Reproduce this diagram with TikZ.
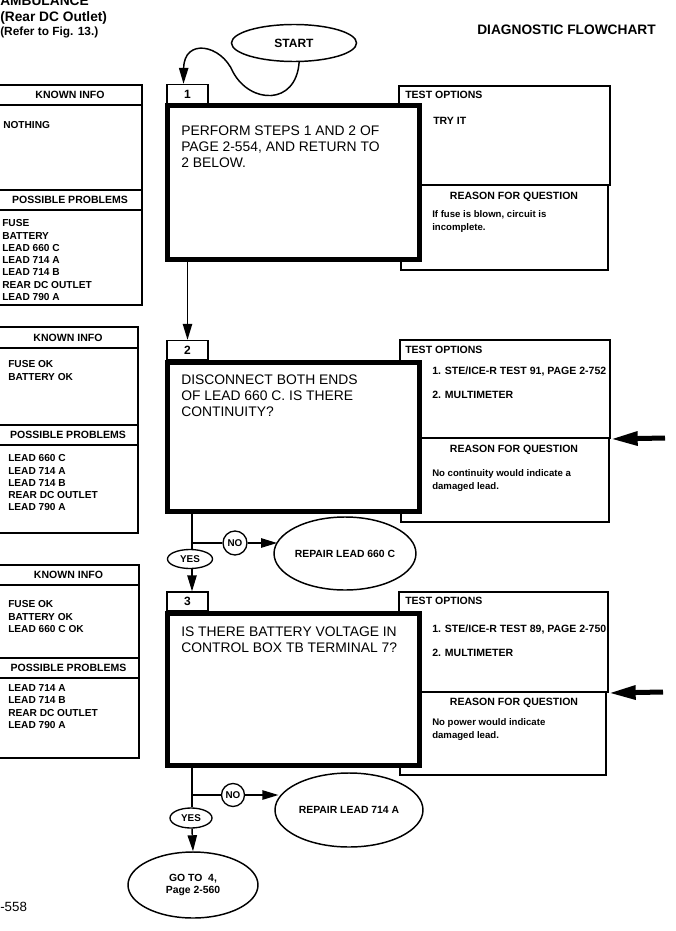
\documentclass[tikz,border=0pt]{standalone}
\usepackage{fontspec}
\setmainfont{Liberation Sans}
\usetikzlibrary{arrows.meta,positioning,shapes.geometric,fit}

\begin{document}
\begin{tikzpicture}[x=0.75pt,y=-0.75pt,
  ttl/.style={font=\bfseries\fontsize{10.3}{12}\selectfont,anchor=base west,inner sep=0},
  hd/.style={font=\bfseries\fontsize{7.9}{9.4}\selectfont,inner sep=0},
  lst/.style={font=\bfseries\fontsize{7.6}{9.2}\selectfont,align=left,anchor=north west,inner sep=0},
  opt/.style={font=\bfseries\fontsize{7.9}{9.4}\selectfont,anchor=north west,inner sep=0},
  why/.style={font=\bfseries\fontsize{7.2}{9.4}\selectfont,align=left,anchor=north west,inner sep=0},
  qtxt/.style={font=\fontsize{10.4}{12}\selectfont,align=left,anchor=north west,inner sep=0},
  lbox/.style={draw,line width=.9pt,inner sep=0},
  tbox/.style={draw,line width=1.5pt,inner sep=0},
  rbox/.style={draw,line width=.9pt,inner sep=0},
  qbox/.style={draw,line width=3.75pt,fill=white,inner sep=0},
  numbox/.style={draw,line width=1.2pt,fill=white,minimum width=30.75pt,minimum height=14pt,
    inner sep=0,font=\bfseries\fontsize{9}{10}\selectfont},
  oval/.style={draw,ellipse,line width=1.1pt,inner sep=0,align=center,
    font=\bfseries\fontsize{7.8}{8.6}\selectfont},
  tag/.style={draw,ellipse,line width=1pt,inner sep=0,font=\bfseries\fontsize{7.4}{8}\selectfont},
  wire/.style={line width=1.1pt},
  flow/.style={-{Triangle[length=12pt,width=7pt]},line width=1.1pt},
  bigflow/.style={-{Triangle[length=20pt,width=10pt]},line width=3.75pt}]
\useasboundingbox (0,0) rectangle (675,931);

% page heading
\node[ttl] (amb) at (0,6) {AMBULANCE};
\node[ttl] (outlet) at (0,21.5) {(Rear DC Outlet)};
\node[ttl,font=\bfseries\fontsize{8.9}{10}\selectfont] (fig) at (0,36) {(Refer to Fig. 13.)};
\node[ttl] (chart) at (477,35) {DIAGNOSTIC FLOWCHART};
\node[ttl,font=\fontsize{10}{12}\selectfont,anchor=west] (page) at (0,907) {-558};

\node[oval,minimum width=93.75pt,minimum height=27.75pt,font=\bfseries\fontsize{9}{10}\selectfont]
  (start) at (294,43) {START};

% left columns
\node[lbox,fit={(-2,85) (142,105)}] (kh1) {};
\node[lbox,fit={(-2,105) (142,190)}] (kb1) {};
\node[lbox,fit={(-2,190) (142,210)}] (ph1) {};
\node[lbox,fit={(-2,210) (142,305)}] (pb1) {};
\node[hd] (kh1t) at (kh1.center) {KNOWN INFO};
\node[hd] (ph1t) at (ph1.center) {POSSIBLE PROBLEMS};
\node[lst] (kb1t) at (3,121.4) {NOTHING};
\node[lst] (pb1t) at (2,219.4) {FUSE\\BATTERY\\LEAD 660 C\\LEAD 714 A\\LEAD 714 B\\REAR DC OUTLET\\LEAD 790 A};

\node[lbox,fit={(-2,327) (138,348)}] (kh2) {};
\node[lbox,fit={(-2,348) (138,425)}] (kb2) {};
\node[lbox,fit={(-2,425) (138,445)}] (ph2) {};
\node[lbox,fit={(-2,445) (138,533)}] (pb2) {};
\node[hd] (kh2t) at (kh2.center) {KNOWN INFO};
\node[hd] (ph2t) at (ph2.center) {POSSIBLE PROBLEMS};
\node[lst] (kb2t) at (8,360.4) {FUSE OK\\BATTERY OK};
\node[lst] (pb2t) at (8,454.4) {LEAD 660 C\\LEAD 714 A\\LEAD 714 B\\REAR DC OUTLET\\LEAD 790 A};

\node[lbox,fit={(-2,565) (139,585)}] (kh3) {};
\node[lbox,fit={(-2,585) (139,658)}] (kb3) {};
\node[lbox,fit={(-2,658) (139,678)}] (ph3) {};
\node[lbox,fit={(-2,678) (139,758)}] (pb3) {};
\node[hd] (kh3t) at (kh3.center) {KNOWN INFO};
\node[hd] (ph3t) at (ph3.center) {POSSIBLE PROBLEMS};
\node[lst] (kb3t) at (8,600.4) {FUSE OK\\BATTERY OK\\LEAD 660 C OK};
\node[lst] (pb3t) at (8,684.4) {LEAD 714 A\\LEAD 714 B\\REAR DC OUTLET\\LEAD 790 A};

% step 1
\node[rbox,fit={(401,185) (608,270)}] (r1) {};
\node[tbox,fit={(399,86) (610,185)}] (t1) {};
\node[qbox,fit={(167.5,105.5) (419.5,259.5)}] (q1) {};
\node[numbox] (n1) at (187.5,94) {1};
\node[qtxt] (q1t) at (181,126) {PERFORM STEPS 1 AND 2 OF\\PAGE 2-554, AND RETURN TO\\2 BELOW.};
\node[opt] (t1h) at (405,91.2) {TEST OPTIONS};
\node[opt] (t1a) at (433,117.2) {TRY IT};
\node[hd] (r1h) at (514,197) {REASON FOR QUESTION};
\node[why] (r1t) at (432,210.5) {If fuse is blown, circuit is\\incomplete.};

% step 2
\node[rbox,fit={(401,438) (609,522)}] (r2) {};
\node[tbox,fit={(400,340) (610,438)}] (t2) {};
\node[qbox,fit={(167.5,362.5) (419.5,511.5)}] (q2) {};
\node[numbox] (n2) at (187.5,350) {2};
\node[qtxt] (q2t) at (181,375) {DISCONNECT BOTH ENDS\\OF LEAD 660 C. IS THERE\\CONTINUITY?};
\node[opt] (t2h) at (405,346.2) {TEST OPTIONS};
\node[opt] (t2a) at (432,366.2) {1. STE/ICE-R TEST 91, PAGE 2-752};
\node[opt] (t2b) at (432,391.2) {2. MULTIMETER};
\node[hd] (r2h) at (514,450) {REASON FOR QUESTION};
\node[why] (r2t) at (432,469.5) {No continuity would indicate a\\damaged lead.};

% step 3
\node[rbox,fit={(400,692) (606,775)}] (r3) {};
\node[tbox,fit={(399,592) (608,692)}] (t3) {};
\node[qbox,fit={(167.5,613.5) (419.5,765.5)}] (q3) {};
\node[numbox] (n3) at (187.5,601.5) {3};
\node[qtxt] (q3t) at (181,627) {IS THERE BATTERY VOLTAGE IN\\CONTROL BOX TB TERMINAL 7?};
\node[opt] (t3h) at (405,597.2) {TEST OPTIONS};
\node[opt] (t3a) at (432,624.2) {1. STE/ICE-R TEST 89, PAGE 2-750};
\node[opt] (t3b) at (432,649.2) {2. MULTIMETER};
\node[hd] (r3h) at (514,703) {REASON FOR QUESTION};
\node[why] (r3t) at (432,718.5) {No power would indicate\\damaged lead.};

% answers
\node[tag,minimum width=33.75pt,minimum height=14.25pt] (y2) at (190,559) {YES};
\node[tag,circle,minimum size=18pt] (o2) at (235,543) {NO};
\node[oval,minimum width=102pt,minimum height=54.75pt] (f2) at (345,553.5) {REPAIR LEAD 660 C};
\node[tag,minimum width=31.5pt,minimum height=15pt] (y3) at (191,818) {YES};
\node[tag,circle,minimum size=17.25pt] (o3) at (233,795) {NO};
\node[oval,minimum width=111pt,minimum height=55.5pt] (f3) at (349,810) {REPAIR LEAD 714 A};
\node[oval,minimum width=97.5pt,minimum height=49.5pt] (g3) at (193,885) {GO TO\ \ 4,\\Page 2-560};
\coordinate (b2) at (192,543);
\coordinate (b3) at (192,795);
\coordinate (a2) at (665,438);
\coordinate (a3) at (663,692);

% connectors
\draw[flow] (start.-75) .. controls (296,106) and (250,104) .. (233,72)
  .. controls (221,44) and (184,38) .. ([xshift=-3pt]n1.north);
\draw[flow] (q1.south -| n2.north) -- (n2.north);
\draw[wire] (q2.south -| b2) -- (b2) -- (y2.north -| b2);
\draw[wire] (b2) -- (o2.west);
\draw[flow] (o2.east) -- (o2.east -| f2.170);
\draw[flow] (y2.south -| b2) -- (n3.north -| b2);
\draw[wire] (q3.south -| b3) -- (b3) -- (y3.north -| b3);
\draw[wire] (b3) -- (o3.west);
\draw[flow] (o3.east) -- (o3.east -| f3.170);
\draw[flow] (y3.south -| b3) -- (g3.north);
\draw[bigflow] (a2) -- (t2.south east);
\draw[bigflow] (a3) -- (t3.south east);
\end{tikzpicture}
\end{document}
